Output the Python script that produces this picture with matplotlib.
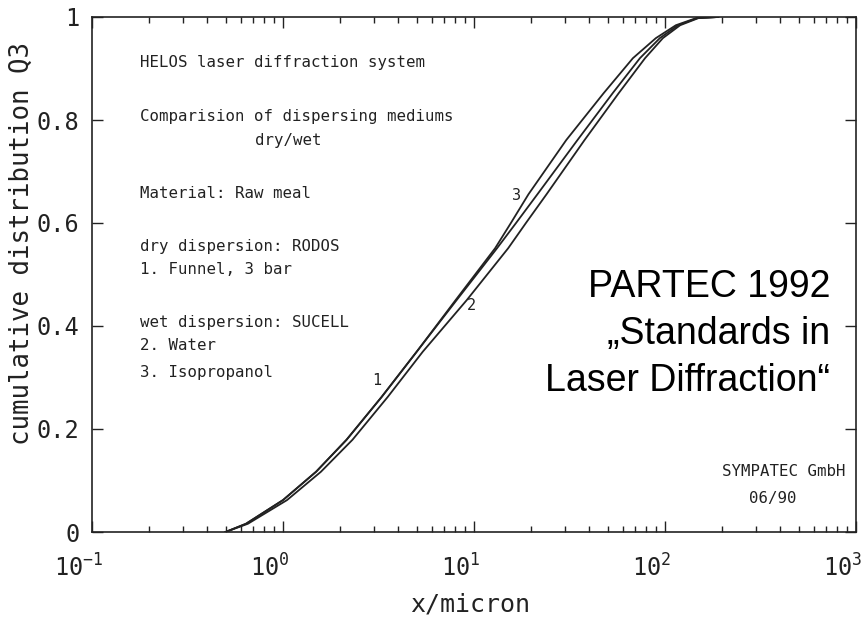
import matplotlib
matplotlib.use("Agg")
import matplotlib.pyplot as plt
import matplotlib.transforms as mtransforms
from matplotlib.ticker import LogLocator, MultipleLocator, NullFormatter

# cumulative distribution Q3 of raw meal, three dispersing methods
q_1 = [0, 0.016, 0.062, 0.117, 0.179, 0.262, 0.35, 0.45, 0.551, 0.60, 0.656, 0.761, 0.852, 0.92, 0.959, 0.984, 0.998, 1.0]
x_1 = [0.50, 0.64, 1.0, 1.49, 2.15, 3.28, 5.01, 8.1, 13.2, 16.6, 21.5, 34.8, 53.2, 73.9, 94, 117, 148, 190]

q_2 = [0, 0.016, 0.062, 0.117, 0.179, 0.262, 0.35, 0.45, 0.551, 0.60, 0.656, 0.761, 0.852, 0.92, 0.959, 0.984, 0.998, 1.0]
x_2 = [0.50, 0.655, 1.05, 1.58, 2.31, 3.53, 5.39, 9.15, 15.1, 18.7, 24.0, 37.9, 57.2, 78.6, 97.5, 120, 150, 190]

q_3 = [0, 0.016, 0.062, 0.117, 0.179, 0.262, 0.35, 0.45, 0.551, 0.60, 0.656, 0.761, 0.852, 0.92, 0.959, 0.984, 0.998, 1.0]
x_3 = [0.50, 0.64, 1.0, 1.49, 2.15, 3.28, 5.01, 8.0, 12.9, 15.6, 19.3, 30.4, 47.7, 67.9, 89.6, 114, 146, 190]

curve_labels = ["1", "2", "3"]
label_pos = [(3.09, 0.295), (9.64, 0.44), (16.8, 0.654)]

info_lines = [
    ("HELOS laser diffraction system", 140, 63),
    ("Comparision of dispersing mediums", 140, 116),
    ("dry/wet", 255, 141),
    ("Material: Raw meal", 140, 194),
    ("dry dispersion: RODOS", 140, 246),
    ("1. Funnel, 3 bar", 140, 269),
    ("wet dispersion: SUCELL", 140, 322),
    ("2. Water", 140, 346),
    ("3. Isopropanol", 140, 372),
]

plt.rcParams['font.family'] = ['DejaVu Sans Mono', 'DejaVu Sans']
plt.rcParams['mathtext.fontset'] = 'custom'
plt.rcParams['mathtext.rm'] = 'DejaVu Sans Mono'

W, H = 866, 618
fig = plt.figure(figsize=(W / 100, H / 100), dpi=100)
ax = fig.add_axes([92 / W, 86 / H, 764 / W, 515 / H])

ink = '#222222'
for xs, qs in [(x_1, q_1), (x_2, q_2), (x_3, q_3)]:
    ax.plot(xs, qs, color=ink, lw=1.3)

for lab, (lx, ly) in zip(curve_labels, label_pos):
    ax.text(lx, ly, lab, fontsize=11, color=ink, ha='center', va='center')

ax.set_xscale('log')
ax.set_xlim(0.1, 1000)
ax.set_ylim(0, 1)
ax.xaxis.set_major_locator(LogLocator(base=10, numticks=10))
ax.xaxis.set_minor_locator(LogLocator(base=10, subs=range(2, 10), numticks=20))
ax.xaxis.set_minor_formatter(NullFormatter())
ax.yaxis.set_major_locator(MultipleLocator(0.2))
ax.yaxis.set_major_formatter(plt.FuncFormatter(lambda v, p: f"{v:g}"))

ax.tick_params(which='both', direction='in', top=True, right=True, color=ink, width=1.0)
ax.tick_params(which='major', length=8, labelsize=17, labelcolor=ink)
ax.tick_params(axis='x', which='major', pad=16)
ax.tick_params(axis='y', which='major', pad=9)
ax.tick_params(which='minor', length=4)
for s in ax.spines.values():
    s.set_linewidth(1.2)
    s.set_color(ink)

# decade labels sit a little left of their ticks
shift = mtransforms.ScaledTranslation(-13 / 100, 0, fig.dpi_scale_trans)
for lbl in ax.get_xticklabels():
    lbl.set_transform(lbl.get_transform() + shift)

for txt, px, py in info_lines:
    fig.text(px / W, 1 - py / H, txt, fontsize=11.3, color=ink, ha='left', va='center')

fig.text(722 / W, 1 - 472 / H, "SYMPATEC GmbH", fontsize=11.3, color=ink, ha='left', va='center')
fig.text(773 / W, 1 - 498 / H, "06/90", fontsize=11.3, color=ink, ha='center', va='center')

fig.text(22 / W, 1 - 243 / H, "cumulative distribution Q3", fontsize=18.5, color=ink,
         rotation=90, ha='center', va='center')
fig.text(470 / W, 1 - 604 / H, "x/micron", fontsize=18, color=ink, ha='center', va='center')

partec = ["PARTEC 1992", "\u201eStandards in", "Laser Diffraction\u201c"]
for i, line in enumerate(partec):
    fig.text(830 / W, 1 - (287 + 47 * i) / H, line, fontsize=27, color='black',
             family='Liberation Sans', ha='right', va='center')

fig.savefig('out.png', dpi=100, facecolor='white')
